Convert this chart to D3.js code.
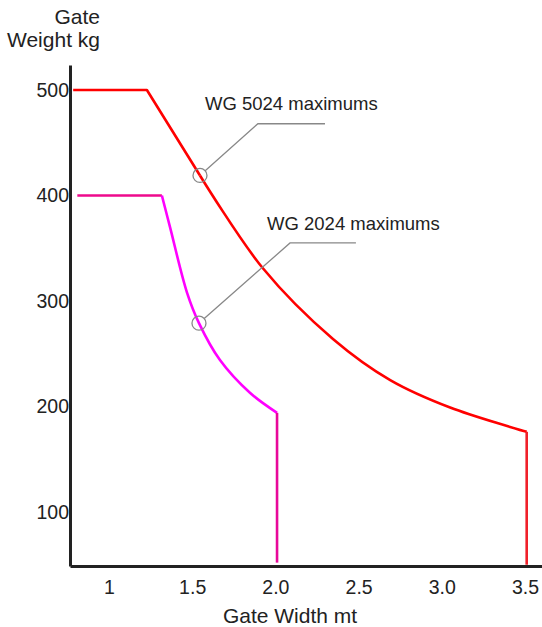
<!DOCTYPE html>
<html>
<head>
<meta charset="utf-8">
<script src="https://cdn.jsdelivr.net/npm/d3@7"></script>
<style>
  body { margin: 0; background: #fff; }
  svg text { font-family: "Liberation Sans", Arial, sans-serif; fill: #222; }
</style>
</head>
<body>
<svg id="chart" width="542" height="627"></svg>
<script>
/*
  Gate weight vs gate width, maximum load curves for two models
*/

// tick values and their printed labels
const xTicks = [1, 1.5, 2, 2.5, 3, 3.5];
const xTickLabels = ['1', '1.5', '2.0', '2.5', '3.0', '3.5'];
const yTicks = [100, 200, 300, 400, 500];

// WG 5024: flat, straight drop, curved tail, then drop to axis
const red5024Flat = [[0.785, 500], [1.228, 500], [1.547, 419]];
const red5024Curve = [[1.547, 419], [1.925, 331], [2.346, 264], [2.69, 225], [3.05, 199], [3.51, 176]];
const red5024Drop = [[3.51, 176], [3.51, 50]];

// WG 2024
const mag2024Flat = [[0.81, 400], [1.318, 400]];
const mag2024Curve = [[1.318, 400], [1.367, 370], [1.469, 308], [1.541, 279], [1.667, 244], [1.847, 213], [2.01, 194]];
const mag2024Drop = [[2.01, 194], [2.01, 52]];

// callouts: circle on curve, elbow, end of leader, text anchor
const callouts = [
  { label: 'WG 5024 maximums', at: [1.547, 419], elbow: [1.895, 468], end: 2.298, text: [1.577, 481] },
  { label: 'WG 2024 maximums', at: [1.541, 279], elbow: [2.088, 355], end: 2.484, text: [1.95, 367] }
];

const svg = d3.select('#chart');

const scale = {};
scale.x = d3.scaleLinear().domain([0.766, 3.602]).range([70, 542]);
scale.y = d3.scaleLinear().domain([48.8, 523.7]).range([566, 65]);

const line = d3.line().x(d => scale.x(d[0])).y(d => scale.y(d[1]));
const curve = d3.line().x(d => scale.x(d[0])).y(d => scale.y(d[1])).curve(d3.curveCatmullRom.alpha(0.5));

/*
 * Axes
 */
const axis = {};
axis.x = d3.axisBottom(scale.x)
  .tickValues(xTicks)
  .tickFormat((d, i) => xTickLabels[i])
  .tickSize(0)
  .tickPadding(14);

axis.y = d3.axisLeft(scale.y)
  .tickValues(yTicks)
  .tickSize(0)
  .tickPadding(1);

const gx = svg.append('g')
  .attr('transform', `translate(0, ${scale.y.range()[0]})`)
  .call(axis.x);

const gy = svg.append('g')
  .attr('transform', `translate(${scale.x.range()[0]}, 0)`)
  .call(axis.y);

[gx, gy].forEach(g => {
  g.select('.domain').attr('stroke', '#222').attr('stroke-width', 3);
  g.selectAll('text')
    .attr('font-family', '"Liberation Sans", Arial, sans-serif')
    .attr('font-size', 19.5)
    .attr('fill', '#222');
});

// axis titles
svg.append('text')
  .attr('x', 290).attr('y', 623)
  .attr('text-anchor', 'middle')
  .attr('font-size', 21)
  .text('Gate Width mt');

svg.append('text')
  .attr('x', 100).attr('y', 24)
  .attr('text-anchor', 'end')
  .attr('font-size', 21)
  .text('Gate');

svg.append('text')
  .attr('x', 100).attr('y', 47)
  .attr('text-anchor', 'end')
  .attr('font-size', 21)
  .text('Weight kg');

/*
 * Series
 */
const series = [
  { pts: red5024Flat, gen: line, color: '#ff0000' },
  { pts: red5024Curve, gen: curve, color: '#ff0000' },
  { pts: red5024Drop, gen: line, color: '#f0202a' },
  { pts: mag2024Flat, gen: line, color: '#ee0a8c' },
  { pts: mag2024Curve, gen: curve, color: '#ff00ff' },
  { pts: mag2024Drop, gen: line, color: '#e8089a' }
];

svg.append('g').selectAll('path')
  .data(series)
  .enter()
  .append('path')
  .attr('d', s => s.gen(s.pts))
  .attr('fill', 'none')
  .attr('stroke', s => s.color)
  .attr('stroke-width', 2.6)
  .attr('stroke-linejoin', 'round');

/*
 * Callouts
 */
const gc = svg.append('g');
const r = 7;

callouts.forEach(c => {
  const cx = scale.x(c.at[0]), cy = scale.y(c.at[1]);
  const ex = scale.x(c.elbow[0]), ey = scale.y(c.elbow[1]);
  const ang = Math.atan2(ey - cy, ex - cx);

  gc.append('circle')
    .attr('cx', cx).attr('cy', cy).attr('r', r)
    .attr('fill', 'none')
    .attr('stroke', '#888')
    .attr('stroke-width', 1.3);

  gc.append('path')
    .attr('d', `M${cx + r * Math.cos(ang)},${cy + r * Math.sin(ang)}L${ex},${ey}H${scale.x(c.end)}`)
    .attr('fill', 'none')
    .attr('stroke', '#888')
    .attr('stroke-width', 1.3);

  gc.append('text')
    .attr('x', scale.x(c.text[0]))
    .attr('y', scale.y(c.text[1]))
    .attr('font-size', 18.5)
    .text(c.label);
});
</script>
</body>
</html>
